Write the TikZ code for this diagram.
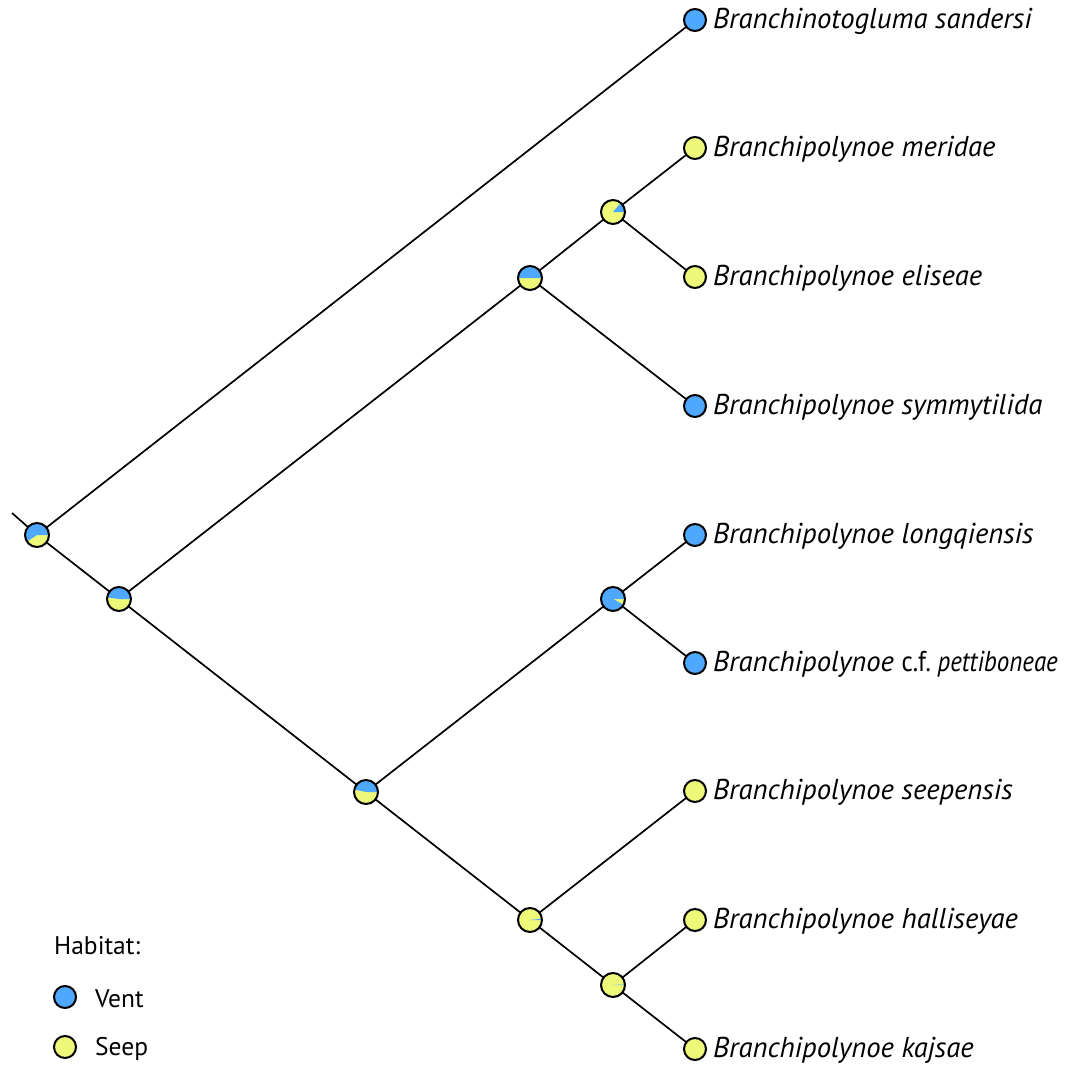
\documentclass[tikz,border=0pt]{standalone}
\usepackage{fontspec}
\setmainfont{PT Sans}
\definecolor{vent}{HTML}{4FA8FF}
\definecolor{seep}{HTML}{EEF97A}
\begin{document}
\begin{tikzpicture}[x=1pt,y=1pt,
  edge/.style={line width=1.7pt,black},
  tipv/.style={circle,draw,line width=2pt,fill=vent,minimum size=22pt,inner sep=0pt},
  tips/.style={circle,draw,line width=2pt,fill=seep,minimum size=22pt,inner sep=0pt},
  pienode/.style={circle,draw,line width=2pt,minimum size=24pt,inner sep=0pt,
    path picture={\fill[seep] (path picture bounding box.center) circle (13);
      \fill[vent] (path picture bounding box.center) -- +(0:13) arc (0:#1:13) -- cycle;}},
  taxon/.style={anchor=west,font=\fontsize{28.7}{32}\selectfont\itshape,inner sep=0pt},
  leg/.style={anchor=west,font=\fontsize{25.5}{29}\selectfont,inner sep=0pt}]
\useasboundingbox (0,0) rectangle (1080,-1065);
% coordinates
\coordinate (stem) at (12,-513);
\coordinate (c1) at (37,-535);
\coordinate (c2) at (119,-599);
\coordinate (c3) at (530,-278);
\coordinate (c4) at (613,-212);
\coordinate (c5) at (366,-792);
\coordinate (c6) at (613,-599);
\coordinate (c7) at (530,-920);
\coordinate (c8) at (613,-985);
\coordinate (d1) at (695,-20);
\coordinate (d2) at (695,-148);
\coordinate (d3) at (695,-277);
\coordinate (d4) at (695,-406);
\coordinate (d5) at (695,-535);
\coordinate (d6) at (695,-663);
\coordinate (d7) at (695,-791);
\coordinate (d8) at (695,-920);
\coordinate (d9) at (695,-1049);
% edges
\draw[edge] (stem) -- (c1);
\draw[edge] (c1) -- (d1);
\draw[edge] (c1) -- (c2);
\draw[edge] (c2) -- (c3);
\draw[edge] (c3) -- (c4);
\draw[edge] (c4) -- (d2);
\draw[edge] (c4) -- (d3);
\draw[edge] (c3) -- (d4);
\draw[edge] (c2) -- (c5);
\draw[edge] (c5) -- (c6);
\draw[edge] (c6) -- (d5);
\draw[edge] (c6) -- (d6);
\draw[edge] (c5) -- (c7);
\draw[edge] (c7) -- (d7);
\draw[edge] (c7) -- (c8);
\draw[edge] (c8) -- (d8);
\draw[edge] (c8) -- (d9);
% internal pies
\node[pienode=213] (n1) at (c1) {};
\node[pienode=172] (n2) at (c2) {};
\node[pienode=180] (n3) at (c3) {};
\node[pienode=50] (n4) at (c4) {};
\node[pienode=168] (n5) at (c5) {};
\node[pienode=332] (n6) at (c6) {};
\node[pienode=6] (n7) at (c7) {};
\node[pienode=3] (n8) at (c8) {};
% tips
\node[tipv] (t1) at (d1) {};
\node[tips] (t2) at (d2) {};
\node[tips] (t3) at (d3) {};
\node[tipv] (t4) at (d4) {};
\node[tipv] (t5) at (d5) {};
\node[tipv] (t6) at (d6) {};
\node[tips] (t7) at (d7) {};
\node[tips] (t8) at (d8) {};
\node[tips] (t9) at (d9) {};
\node[taxon] (l1) at (713,-21) {Branchinotogluma sandersi};
\node[taxon] (l2) at (713,-149) {Branchipolynoe meridae};
\node[taxon] (l3) at (713,-278) {Branchipolynoe eliseae};
\node[taxon] (l4) at (713,-407) {Branchipolynoe symmytilida};
\node[taxon] (l5) at (713,-536) {Branchipolynoe longqiensis};
\node[taxon] (l6) at (713,-664) {Branchipolynoe \scalebox{0.87}[1]{\upshape c.f.\ \itshape pettiboneae}};
\node[taxon] (l7) at (713,-792) {Branchipolynoe seepensis};
\node[taxon] (l8) at (713,-921) {Branchipolynoe halliseyae};
\node[taxon] (l9) at (713,-1050) {Branchipolynoe kajsae};
% legend
\node[leg] (lh) at (54,-946) {Habitat:};
\node[tipv] (lv) at (65,-997) {};
\node[tips] (ls) at (65,-1047) {};
\node[leg] (lvt) at (95,-999) {Vent};
\node[leg] (lst) at (95,-1049) {Seep};
\end{tikzpicture}
\end{document}
